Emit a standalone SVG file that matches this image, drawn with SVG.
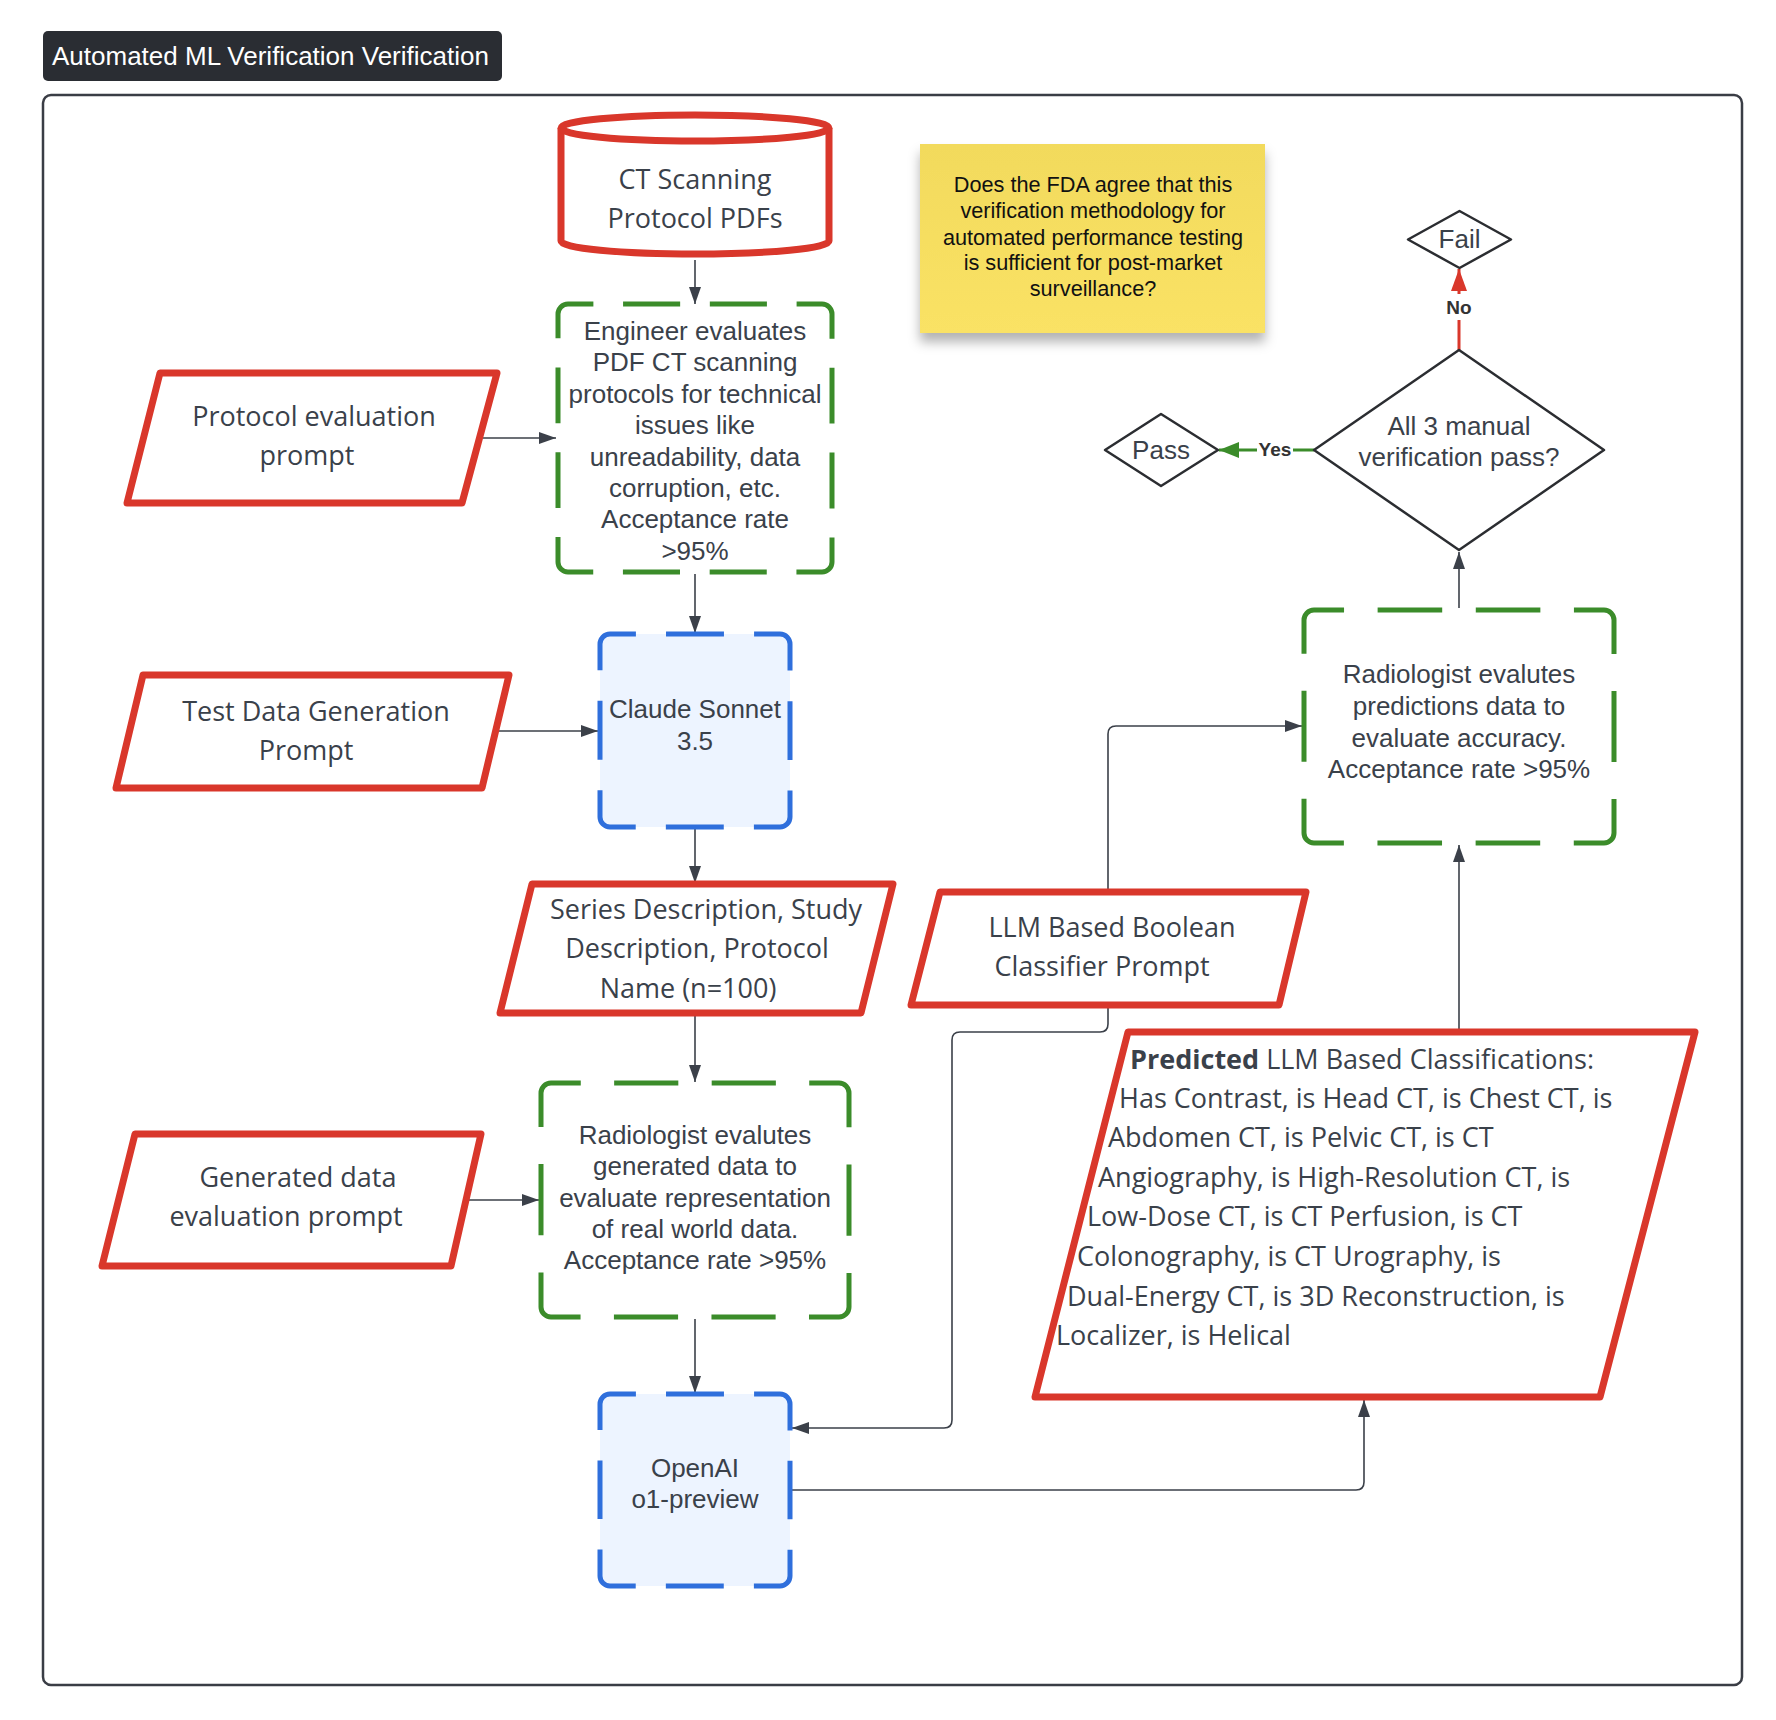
<svg xmlns="http://www.w3.org/2000/svg" width="1776" height="1720" viewBox="0 0 1776 1720">
<defs>
<style>
.conn{fill:none;stroke:#3b4049;stroke-width:1.6}
.para{fill:#fff;stroke:#d9372b;stroke-width:7;stroke-linejoin:round}
.pt{font-family:'Open Sans','Noto Sans',sans-serif;font-size:27px;fill:#3a414a;text-anchor:middle}
.lt{font-family:'Liberation Sans',Arial,sans-serif;font-size:26px;fill:#3a414a;text-anchor:middle}
.green{fill:#fff;stroke:#3b8c2a;stroke-width:5}
.blue{fill:#edf4ff;stroke:#2f6fdc;stroke-width:5}
.dia{fill:#fff;stroke:#2b2d31;stroke-width:2.5;stroke-linejoin:round}
.lbl{font-family:'Liberation Sans',Arial,sans-serif;font-size:19px;font-weight:bold;fill:#333;text-anchor:middle}
.note{font-family:'Liberation Sans',Arial,sans-serif;font-size:21.7px;fill:#111;text-anchor:middle}
</style>
<marker id="ah" markerUnits="userSpaceOnUse" markerWidth="17" markerHeight="12" refX="17" refY="6" orient="auto"><path d="M0,0 L17,6 L0,12 Z" fill="#3b4049"/></marker>
<marker id="ahr" markerUnits="userSpaceOnUse" markerWidth="22" markerHeight="16" refX="22" refY="8" orient="auto"><path d="M0,0 L22,8 L0,16 Z" fill="#d9372b"/></marker>
<marker id="ahg" markerUnits="userSpaceOnUse" markerWidth="20" markerHeight="16" refX="20" refY="8" orient="auto"><path d="M0,0 L20,8 L0,16 Z" fill="#3b8c2a"/></marker>
<linearGradient id="ng" x1="0" y1="0" x2="0" y2="1"><stop offset="0" stop-color="#f2da5c"/><stop offset="1" stop-color="#fae265"/></linearGradient>
<filter id="sh" x="-10%" y="-10%" width="120%" height="135%"><feDropShadow dx="0" dy="9" stdDeviation="6" flood-color="#000" flood-opacity="0.3"/></filter>
</defs>
<rect width="1776" height="1720" fill="#fff"/>

<g id="title">
<rect x="43" y="31" width="459" height="50" rx="5" fill="#2a2d33"/>
<text x="52" y="65" font-family="'Liberation Sans',Arial,sans-serif" font-size="26" fill="#fff">Automated ML Verification Verification</text>
</g>

<g id="frame"><rect x="43" y="95" width="1699" height="1590" rx="8" fill="none" stroke="#3a3d45" stroke-width="2.5"/></g>

<g id="connectors">
<path class="conn" d="M695,260 V304" marker-end="url(#ah)"/>
<path class="conn" d="M483,438 H556" marker-end="url(#ah)"/>
<path class="conn" d="M695,574 V633" marker-end="url(#ah)"/>
<path class="conn" d="M497,731 H598" marker-end="url(#ah)"/>
<path class="conn" d="M695,829 V883" marker-end="url(#ah)"/>
<path class="conn" d="M695,1016 V1082" marker-end="url(#ah)"/>
<path class="conn" d="M466,1200 H539" marker-end="url(#ah)"/>
<path class="conn" d="M695,1319 V1393" marker-end="url(#ah)"/>
<path class="conn" d="M1108,1008 V1024 Q1108,1032 1100,1032 H960 Q952,1032 952,1040 V1420 Q952,1428 944,1428 H792" marker-end="url(#ah)"/>
<path class="conn" d="M792,1490 H1356 Q1364,1490 1364,1482 V1400" marker-end="url(#ah)"/>
<path class="conn" d="M1108,889 V734 Q1108,726 1116,726 H1302" marker-end="url(#ah)"/>
<path class="conn" d="M1459,1029 V845" marker-end="url(#ah)"/>
<path class="conn" d="M1459,608 V552" marker-end="url(#ah)"/>
<path d="M1459,350 V269" fill="none" stroke="#d9372b" stroke-width="3" marker-end="url(#ahr)"/>
<rect x="1444" y="294" width="30" height="26" fill="#fff"/>
<text class="lbl" x="1459" y="314">No</text>
<path d="M1314,450 H1219" fill="none" stroke="#3b8c2a" stroke-width="3" marker-end="url(#ahg)"/>
<rect x="1257" y="437" width="36" height="26" fill="#fff"/>
<text class="lbl" x="1275" y="456">Yes</text>
</g>

<g id="ct-pdfs">
<path d="M561,128 V241 A134,13 0 0 0 829,241 V128" fill="#fff" stroke="#d9372b" stroke-width="7"/>
<ellipse cx="695" cy="128" rx="134" ry="13" fill="#fff" stroke="#d9372b" stroke-width="7"/>
<text class="pt" x="695" y="189">CT Scanning</text>
<text class="pt" x="695" y="228">Protocol PDFs</text>
</g>

<g id="engineer-eval">
<path class="green" stroke-dasharray="25.39 29.68 57.08 29.68 57.08 29.68 65.72 29.03 55.83 29.03 55.83 29.03 65.72 29.68 57.08 29.68 57.08 29.68 65.72 29.03 55.83 29.03 55.83 29.03 40.33 100" d="M568,304 H822 A10,10 0 0 1 832,314 V562 A10,10 0 0 1 822,572 H568 A10,10 0 0 1 558,562 V314 A10,10 0 0 1 568,304 Z"/>
<text class="lt" x="695" y="340">Engineer evaluates</text>
<text class="lt" x="695" y="371.4">PDF CT scanning</text>
<text class="lt" x="695" y="402.8">protocols for technical</text>
<text class="lt" x="695" y="434.2">issues like</text>
<text class="lt" x="695" y="465.6">unreadability, data</text>
<text class="lt" x="695" y="497">corruption, etc.</text>
<text class="lt" x="695" y="528.4">Acceptance rate</text>
<text class="lt" x="695" y="559.8">&gt;95%</text>
</g>

<g id="protocol-eval-prompt">
<path class="para" d="M160,373 L497,373 L462,503 L127,503 Z"/>
<text class="pt" x="314" y="426">Protocol evaluation</text>
<text class="pt" x="307" y="465">prompt</text>
</g>

<g id="test-data-prompt">
<path class="para" d="M143,675 L509,675 L482,788 L116,788 Z"/>
<text class="pt" x="316" y="721">Test Data Generation</text>
<text class="pt" x="306" y="760">Prompt</text>
</g>

<g id="claude">
<path class="blue" stroke-dasharray="25.91 30.12 57.93 30.12 68.10 30.60 58.84 30.60 68.10 30.12 57.93 30.12 68.10 30.60 58.84 30.60 42.19 100" d="M610,634 H780 A10,10 0 0 1 790,644 V817 A10,10 0 0 1 780,827 H610 A10,10 0 0 1 600,817 V644 A10,10 0 0 1 610,634 Z"/>
<text class="lt" x="695" y="718">Claude Sonnet</text>
<text class="lt" x="695" y="750">3.5</text>
</g>

<g id="series-desc">
<path class="para" d="M532,884 L893,884 L861,1013 L500,1013 Z"/>
<text class="pt" x="706" y="919">Series Description, Study</text>
<text class="pt" x="697" y="958">Description, Protocol</text>
<text class="pt" x="688" y="998">Name (n=100)</text>
</g>

<g id="gen-data-prompt">
<path class="para" d="M135,1134 L481,1134 L451,1266 L102,1266 Z"/>
<text class="pt" x="298" y="1187">Generated data</text>
<text class="pt" x="286" y="1226">evaluation prompt</text>
</g>

<g id="radiologist-gen">
<path class="green" stroke-dasharray="29.78 33.37 64.17 33.37 64.17 33.37 79.72 37.10 71.34 37.10 79.72 33.37 64.17 33.37 64.17 33.37 79.72 37.10 71.34 37.10 49.94 100" d="M551,1083 H839 A10,10 0 0 1 849,1093 V1307 A10,10 0 0 1 839,1317 H551 A10,10 0 0 1 541,1307 V1093 A10,10 0 0 1 551,1083 Z"/>
<text class="lt" x="695" y="1144">Radiologist evalutes</text>
<text class="lt" x="695" y="1175">generated data to</text>
<text class="lt" x="695" y="1207">evaluate representation</text>
<text class="lt" x="695" y="1238">of real world data.</text>
<text class="lt" x="695" y="1269">Acceptance rate &gt;95%</text>
</g>

<g id="openai">
<path class="blue" stroke-dasharray="25.91 30.12 57.93 30.12 67.91 30.44 58.54 30.44 67.91 30.12 57.93 30.12 67.91 30.44 58.54 30.44 42.00 100" d="M610,1394 H780 A10,10 0 0 1 790,1404 V1576 A10,10 0 0 1 780,1586 H610 A10,10 0 0 1 600,1576 V1404 A10,10 0 0 1 610,1394 Z"/>
<text class="lt" x="695" y="1477">OpenAI</text>
<text class="lt" x="695" y="1508">o1-preview</text>
</g>

<g id="llm-classifier-prompt">
<path class="para" d="M940,892 L1306,892 L1279,1005 L911,1005 Z"/>
<text class="pt" x="1112" y="937">LLM Based Boolean</text>
<text class="pt" x="1102" y="976">Classifier Prompt</text>
</g>

<g id="predicted">
<path class="para" d="M1128,1032 L1695,1032 L1600,1397 L1035,1397 Z"/>
<text class="pt" style="text-anchor:start" x="1130" y="1069"><tspan font-weight="bold">Predicted</tspan> LLM Based Classifications:</text>
<text class="pt" style="text-anchor:start" x="1119" y="1108">Has Contrast, is Head CT, is Chest CT, is</text>
<text class="pt" style="text-anchor:start" x="1108" y="1147">Abdomen CT, is Pelvic CT, is CT</text>
<text class="pt" style="text-anchor:start" x="1098" y="1187">Angiography, is High-Resolution CT, is</text>
<text class="pt" style="text-anchor:start" x="1087" y="1226">Low-Dose CT, is CT Perfusion, is CT</text>
<text class="pt" style="text-anchor:start" x="1077" y="1266">Colonography, is CT Urography, is</text>
<text class="pt" style="text-anchor:start" x="1067" y="1306">Dual-Energy CT, is 3D Reconstruction, is</text>
<text class="pt" style="text-anchor:start" x="1056" y="1345">Localizer, is Helical</text>
</g>

<g id="radiologist-pred">
<path class="green" stroke-dasharray="30.04 33.58 64.58 33.58 64.58 33.58 79.79 36.94 71.04 36.94 79.79 33.58 64.58 33.58 64.58 33.58 79.79 36.94 71.04 36.94 49.75 100" d="M1314,610 H1604 A10,10 0 0 1 1614,620 V833 A10,10 0 0 1 1604,843 H1314 A10,10 0 0 1 1304,833 V620 A10,10 0 0 1 1314,610 Z"/>
<text class="lt" x="1459" y="683">Radiologist evalutes</text>
<text class="lt" x="1459" y="715">predictions data to</text>
<text class="lt" x="1459" y="747">evaluate accuracy.</text>
<text class="lt" x="1459" y="778">Acceptance rate &gt;95%</text>
</g>

<g id="decision">
<path class="dia" d="M1459,350 L1604,450 L1459,550 L1314,450 Z"/>
<text class="lt" x="1459" y="435">All 3 manual</text>
<text class="lt" x="1459" y="466">verification pass?</text>
</g>

<g id="fail">
<path class="dia" d="M1459.5,211 L1511,239.5 L1459.5,268 L1408,239.5 Z"/>
<text class="lt" x="1459.5" y="248">Fail</text>
</g>

<g id="pass">
<path class="dia" d="M1161,414 L1218,450 L1161,486 L1105,450 Z"/>
<text class="lt" x="1161" y="459">Pass</text>
</g>

<g id="fda-note">
<rect x="920" y="144" width="345" height="189" fill="url(#ng)" filter="url(#sh)"/>
<text class="note" x="1093" y="192">Does the FDA agree that this</text>
<text class="note" x="1093" y="218">verification methodology for</text>
<text class="note" x="1093" y="245">automated performance testing</text>
<text class="note" x="1093" y="270">is sufficient for post-market</text>
<text class="note" x="1093" y="296">surveillance?</text>
</g>
</svg>
